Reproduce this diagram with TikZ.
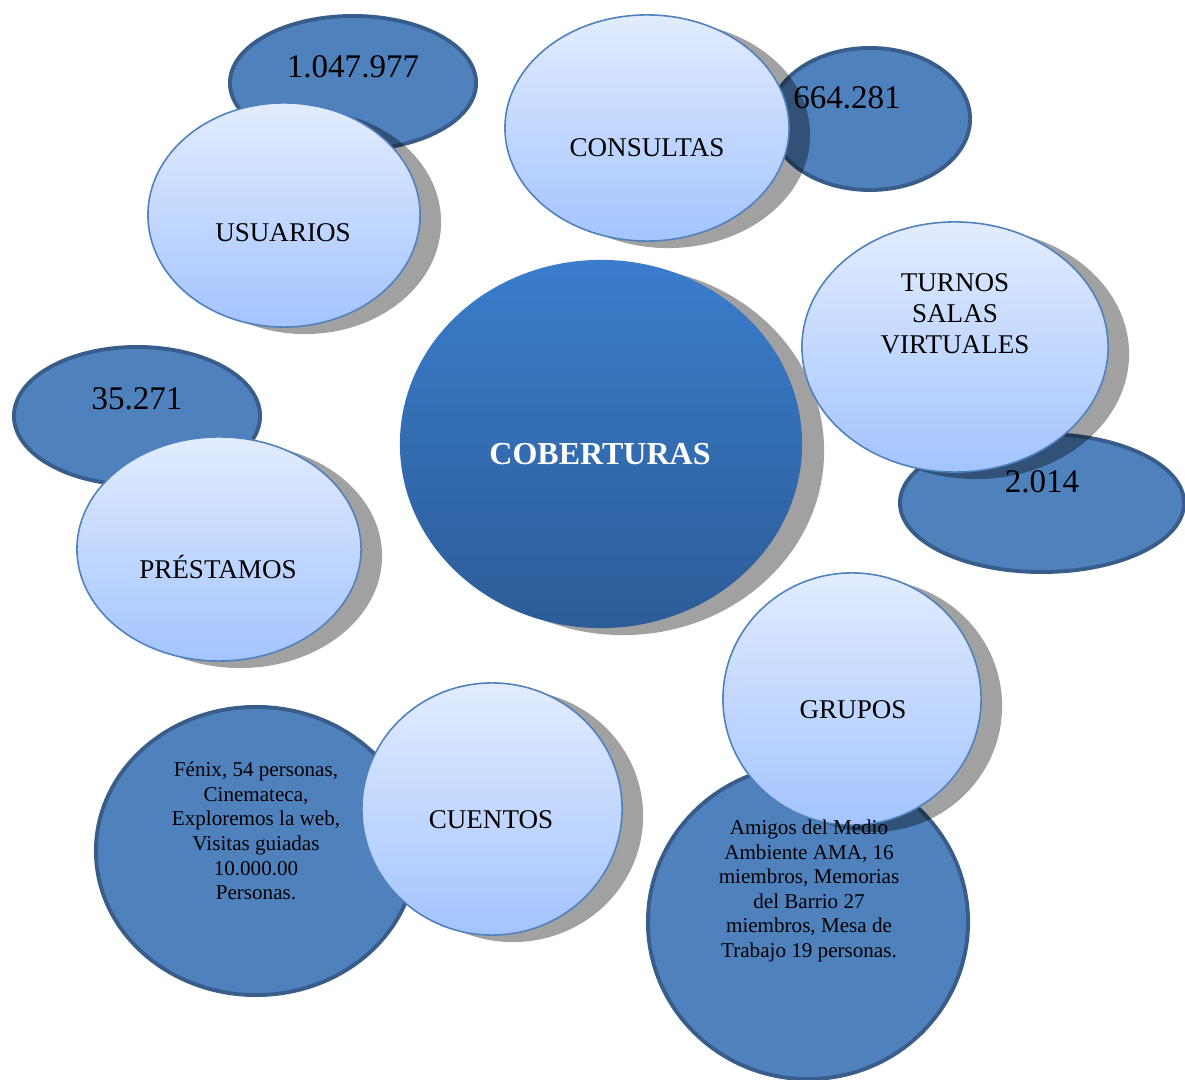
\documentclass[tikz,border=0pt]{standalone}
\usepackage{fontspec}
\setmainfont{Liberation Serif}
\usetikzlibrary{shapes.geometric,shadows}

\definecolor{valfill}{HTML}{4F81BD}
\definecolor{valline}{HTML}{385D8A}
\definecolor{cattop}{HTML}{E2ECFE}
\definecolor{catbot}{HTML}{A3C4FF}
\definecolor{catline}{HTML}{4F81BD}
\definecolor{maintop}{HTML}{3A7DCC}
\definecolor{mainbot}{HTML}{2C5C97}

\tikzset{
  valbubble/.style={ellipse, draw=valline, fill=valfill, line width=1.1pt, inner sep=0pt},
  catbubble/.style={ellipse, draw=catline, line width=0.45pt, inner sep=0pt,
    top color=cattop, bottom color=catbot,
    drop shadow={shadow xshift=0.21cm, shadow yshift=-0.07cm, opacity=0.37, fill=black}},
  mainbubble/.style={ellipse, draw=none, inner sep=0pt,
    top color=maintop, bottom color=mainbot,
    drop shadow={shadow xshift=0.22cm, shadow yshift=-0.07cm, opacity=0.37, fill=black}},
  valtext/.style={inner sep=0pt, font=\fontsize{9.4}{11}\selectfont},
  cattext/.style={inner sep=0pt, align=center, font=\fontsize{7.7}{8.8}\selectfont},
  smalltext/.style={inner sep=0pt, align=center, font=\fontsize{6}{7}\selectfont}
}

\begin{document}
\begin{tikzpicture}[x=0.01cm, y=-0.01cm]
\useasboundingbox (0,0) rectangle (1185,1080);
\clip (0,0) rectangle (1185,1080);

% Central bubble
\node[mainbubble, minimum width=4.02cm, minimum height=3.68cm] (coberturas) at (601,444) {};
\node[inner sep=0pt, text=white, font=\fontsize{9.1}{11}\selectfont\bfseries] (coberturas-txt) at (600,454) {COBERTURAS};

% Usuarios
\node[valbubble, minimum width=2.46cm, minimum height=1.34cm] (usuarios-val) at (353,83) {};
\node[valtext] (usuarios-num) at (353,67) {1.047.977};
\node[catbubble, minimum width=2.72cm, minimum height=2.24cm] (usuarios) at (284,215) {};
\node[cattext] (usuarios-txt) at (283,233) {USUARIOS};

% Consultas
\node[valbubble, minimum width=2.00cm, minimum height=1.42cm] (consultas-val) at (870,119) {};
\node[valtext] (consultas-num) at (847,98) {664.281};
\node[catbubble, minimum width=2.84cm, minimum height=2.26cm] (consultas) at (647,128) {};
\node[cattext] (consultas-txt) at (647,148) {CONSULTAS};

% Turnos salas virtuales
\node[valbubble, minimum width=2.84cm, minimum height=1.38cm] (turnos-val) at (1042,503) {};
\node[valtext] (turnos-num) at (1042,482) {2.014};
\node[catbubble, minimum width=3.06cm, minimum height=2.50cm] (turnos) at (955,347) {};
\node[cattext] (turnos-txt) at (955,314) {TURNOS\\SALAS\\VIRTUALES};

% Prestamos
\node[valbubble, minimum width=2.46cm, minimum height=1.38cm] (prestamos-val) at (137,416) {};
\node[valtext] (prestamos-num) at (137,399) {35.271};
\node[catbubble, minimum width=2.84cm, minimum height=2.24cm] (prestamos) at (219,549) {};
\node[cattext] (prestamos-txt) at (218,567) {PRÉSTAMOS};

% Cuentos
\node[valbubble, minimum width=3.20cm, minimum height=2.88cm] (cuentos-val) at (256,851) {};
\node[smalltext] (cuentos-det) at (256,831) {Fénix, 54 personas,\\Cinemateca,\\Exploremos la web,\\Visitas guiadas\\10.000.00\\Personas.};
\node[catbubble, minimum width=2.60cm, minimum height=2.52cm] (cuentos) at (492,809) {};
\node[cattext] (cuentos-txt) at (491,820) {CUENTOS};

% Grupos
\node[valbubble, minimum width=3.20cm, minimum height=3.14cm] (grupos-val) at (808,922) {};
\node[catbubble, minimum width=2.58cm, minimum height=2.52cm] (grupos) at (852,699) {};
\node[cattext] (grupos-txt) at (853,710) {GRUPOS};
\node[smalltext] (grupos-det) at (809,891) {Amigos del Medio\\Ambiente AMA, 16\\miembros, Memorias\\del Barrio 27\\miembros, Mesa de\\Trabajo 19 personas.};
\end{tikzpicture}
\end{document}
